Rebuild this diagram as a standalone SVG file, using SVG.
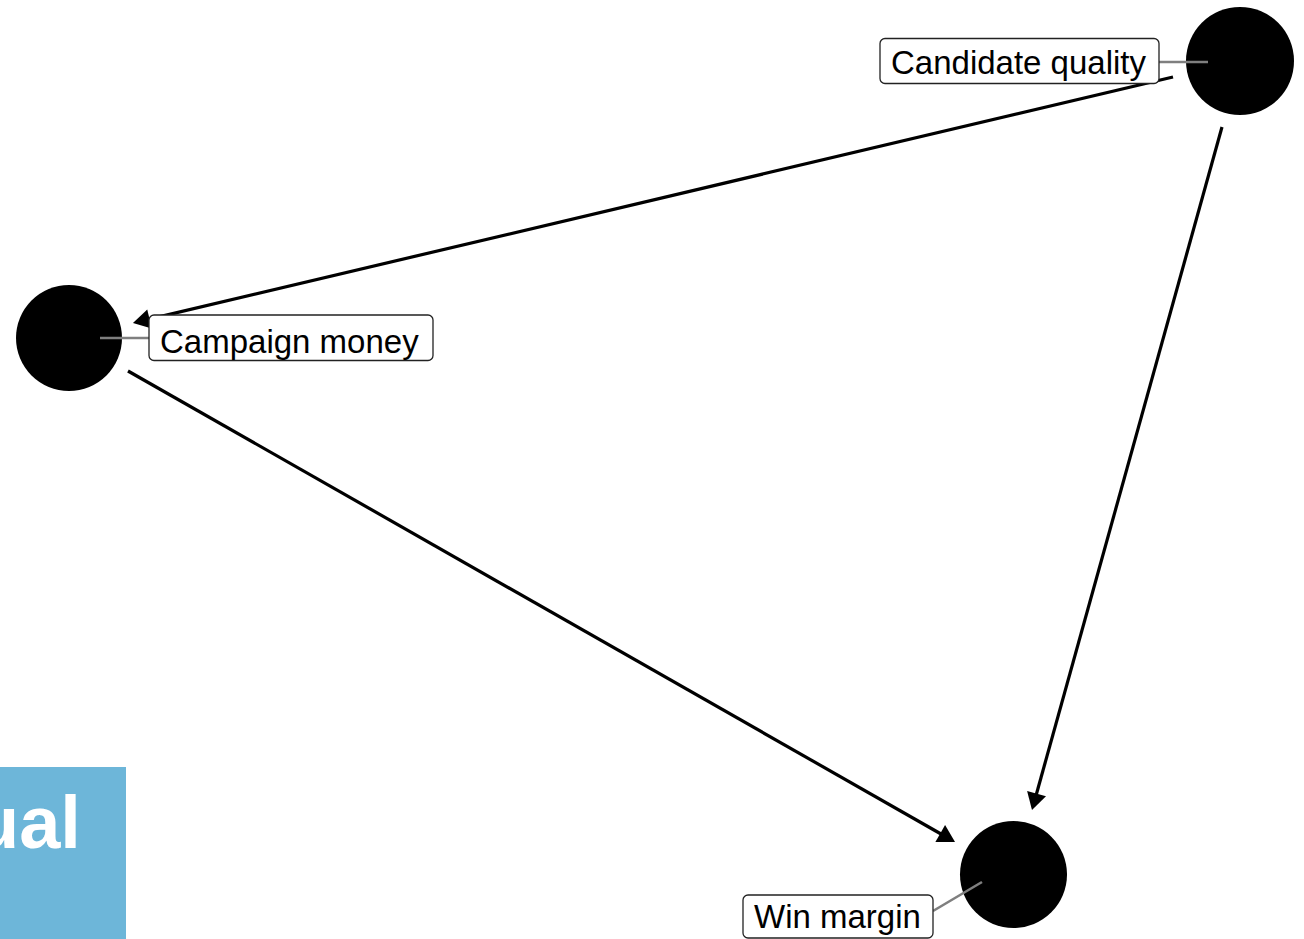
<svg xmlns="http://www.w3.org/2000/svg" width="1304" height="939" viewBox="0 0 1304 939">
  <style>
    .edge { stroke: #000; stroke-width: 3.2; fill: none; marker-end: url(#arrow); }
    .node { fill: #000; }
    .leader { stroke: #7f7f7f; stroke-width: 2.6; }
    .label-box { fill: #fff; stroke: #222; stroke-width: 1.3; }
    .label { font-family: "Liberation Sans", Arial, sans-serif; font-size: 33px; fill: #000; }
    .badge-text { font-family: "Liberation Sans", Arial, sans-serif; font-size: 74px; font-weight: bold; fill: #fff; }
  </style>
  <defs>
    <marker id="arrow" markerUnits="userSpaceOnUse" markerWidth="24" markerHeight="24" viewBox="-18 -11 24 22" refX="-6" refY="0" orient="auto" overflow="visible">
      <path d="M0,0 L-17,-9.8 L-17,9.8 Z" fill="#000"/>
    </marker>
  </defs>
  <rect width="1304" height="939" fill="#fff"/>

  <!-- corner badge -->
  <g id="badge">
    <rect x="0" y="767" width="126" height="172" fill="#6db6d9"/>
    <text class="badge-text" x="-26" y="848">ual</text>
  </g>

  <!-- connectors -->
  <g id="edges">
    <line class="edge" x1="1173" y1="77" x2="138.8" y2="321.6"/>
    <line class="edge" x1="1222" y1="127" x2="1033.6" y2="804.2"/>
    <line class="edge" x1="128" y1="371" x2="949.8" y2="839"/>
  </g>

  <g id="node-candidate-quality">
    <circle class="node" cx="1240" cy="61" r="54"/>
    <line class="leader" x1="1159" y1="62" x2="1208" y2="62"/>
    <rect class="label-box" x="880" y="38.5" width="279" height="45" rx="5"/>
    <text class="label" x="891" y="74">Candidate quality</text>
  </g>

  <g id="node-campaign-money">
    <circle class="node" cx="69" cy="338" r="53"/>
    <line class="leader" x1="100" y1="338" x2="149" y2="338"/>
    <rect class="label-box" x="149" y="315" width="284" height="45.5" rx="5"/>
    <text class="label" x="160" y="353">Campaign money</text>
  </g>

  <g id="node-win-margin">
    <circle class="node" cx="1013.5" cy="874.5" r="53.5"/>
    <line class="leader" x1="933" y1="911" x2="982" y2="882"/>
    <rect class="label-box" x="743" y="895" width="190" height="43" rx="5"/>
    <text class="label" x="754" y="928">Win margin</text>
  </g>
</svg>
